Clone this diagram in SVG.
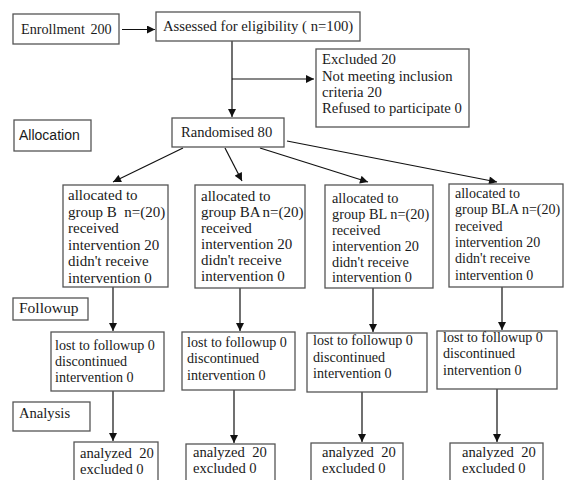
<svg xmlns="http://www.w3.org/2000/svg" width="569" height="480" viewBox="0 0 569 480">
<defs>
<marker id="ah" viewBox="0 0 10 10" refX="10" refY="5" markerWidth="9" markerHeight="8" markerUnits="userSpaceOnUse" orient="auto">
<path d="M0,0 L10,5 L0,10 z" fill="#111"/>
</marker>
<style>
.box{fill:#fff;stroke:#555;stroke-width:1.3}
.t{font-family:"Liberation Serif","Times New Roman",serif;font-size:14.7px;fill:#1a1a1a}
.g1{font-size:15px}
.g3{font-size:14.3px}
.g4{font-size:14px}
.fu{font-size:14.1px}
.an{font-size:14.6px}
.s{font-family:"Liberation Sans",Arial,sans-serif;font-size:14px;fill:#1a1a1a}
.c{fill:none;stroke:#111;stroke-width:1.2;marker-end:url(#ah)}
</style>
</defs>
<rect width="569" height="480" fill="#fff"/>

<g id="connectors">
<line class="c" x1="122" y1="29.5" x2="155" y2="29.5"/>
<line class="c" x1="232" y1="41" x2="232" y2="117"/>
<line class="c" x1="232" y1="79" x2="314" y2="79"/>
<line class="c" x1="183" y1="148" x2="113" y2="182"/>
<line class="c" x1="225" y1="148" x2="242" y2="181"/>
<line class="c" x1="260" y1="148" x2="368" y2="182"/>
<line class="c" x1="287" y1="141" x2="497" y2="182"/>
<line class="c" x1="113" y1="287" x2="113" y2="331"/>
<line class="c" x1="240" y1="288" x2="240" y2="331"/>
<line class="c" x1="373" y1="288" x2="373" y2="332"/>
<line class="c" x1="502" y1="287" x2="502" y2="330"/>
<line class="c" x1="113" y1="391" x2="113" y2="441"/>
<line class="c" x1="234" y1="390" x2="234" y2="443"/>
<line class="c" x1="362" y1="392" x2="362" y2="442"/>
<line class="c" x1="497" y1="389" x2="497" y2="442"/>
</g>

<g id="enrollment">
<rect class="box" x="13" y="14" width="106" height="30"/>
<text class="t" x="21" y="34" style="font-size:14.2px">Enrollment <tspan dx="2">200</tspan></text>
</g>
<g id="assessed">
<rect class="box" x="156" y="12" width="204" height="29"/>
<text class="t" x="163" y="31">Assessed for eligibility ( n=100)</text>
</g>
<g id="excluded">
<rect class="box" x="316" y="49" width="153" height="78"/>
<text class="t"><tspan x="322" y="64">Excluded 20</tspan><tspan x="322" y="81">Not meeting inclusion</tspan><tspan x="322" y="97">criteria 20</tspan><tspan x="322" y="113">Refused to participate 0</tspan></text>
</g>
<g id="allocation">
<rect class="box" x="14" y="120" width="77" height="31"/>
<text class="s" x="19" y="140">Allocation</text>
</g>
<g id="randomised">
<rect class="box" x="172" y="118" width="112" height="29"/>
<text class="t" x="181" y="137" style="font-size:14.6px">Randomised 80</text>
</g>

<g id="groupB">
<rect class="box" x="63" y="185" width="105" height="102"/>
<text class="t g1"><tspan x="68" y="200">allocated to</tspan><tspan x="68" y="216.5" xml:space="preserve">group B  n=(20)</tspan><tspan x="68" y="233">received</tspan><tspan x="68" y="249.5">intervention 20</tspan><tspan x="68" y="266">didn't receive</tspan><tspan x="68" y="282.5">intervention 0</tspan></text>
</g>
<g id="groupBA">
<rect class="box" x="195" y="185" width="110" height="103"/>
<text class="t g1"><tspan x="201" y="201">allocated to</tspan><tspan x="201" y="217">group BA<tspan dx="2">n=(20)</tspan></tspan><tspan x="201" y="233">received</tspan><tspan x="201" y="249">intervention 20</tspan><tspan x="201" y="265">didn't receive</tspan><tspan x="201" y="281">intervention 0</tspan></text>
</g>
<g id="groupBL">
<rect class="box" x="325" y="185" width="108" height="103"/>
<text class="t g3"><tspan x="332" y="203">allocated to</tspan><tspan x="332" y="219">group BL n=(20)</tspan><tspan x="332" y="235">received</tspan><tspan x="332" y="251">intervention 20</tspan><tspan x="332" y="267">didn't receive</tspan><tspan x="332" y="282">intervention 0</tspan></text>
</g>
<g id="groupBLA">
<rect class="box" x="449" y="184" width="114" height="103"/>
<text class="t g4"><tspan x="455" y="198">allocated to</tspan><tspan x="455" y="214">group BLA n=(20)</tspan><tspan x="455" y="231">received</tspan><tspan x="455" y="247">intervention 20</tspan><tspan x="455" y="263">didn't receive</tspan><tspan x="455" y="280">intervention 0</tspan></text>
</g>

<g id="followup">
<rect class="box" x="13" y="298" width="75" height="22"/>
<text class="t" x="19" y="313" style="font-size:15.5px">Followup</text>
</g>
<g id="fuB">
<rect class="box" x="51" y="332" width="113" height="59"/>
<text class="t fu"><tspan x="55" y="350">lost to followup 0</tspan><tspan x="55" y="366">discontinued</tspan><tspan x="55" y="382">intervention 0</tspan></text>
</g>
<g id="fuBA">
<rect class="box" x="182" y="332" width="113" height="58"/>
<text class="t fu"><tspan x="187" y="347">lost to followup 0</tspan><tspan x="187" y="363">discontinued</tspan><tspan x="187" y="380">intervention 0</tspan></text>
</g>
<g id="fuBL">
<rect class="box" x="307" y="333" width="120" height="59"/>
<text class="t fu"><tspan x="313" y="345">lost to followup 0</tspan><tspan x="313" y="362">discontinued</tspan><tspan x="313" y="378">intervention 0</tspan></text>
</g>
<g id="fuBLA">
<rect class="box" x="437" y="331" width="120" height="58"/>
<text class="t fu"><tspan x="443" y="342">lost to followup 0</tspan><tspan x="443" y="358">discontinued</tspan><tspan x="443" y="375">intervention 0</tspan></text>
</g>

<g id="analysis">
<rect class="box" x="13" y="402" width="77" height="29"/>
<text class="t an" x="19" y="418">Analysis</text>
</g>
<g id="anB">
<rect class="box" x="74" y="442" width="84" height="45"/>
<text class="t an" xml:space="preserve"><tspan x="80" y="458">analyzed  20</tspan><tspan x="80" y="474">excluded 0</tspan></text>
</g>
<g id="anBA">
<rect class="box" x="186" y="444" width="89" height="45"/>
<text class="t an" xml:space="preserve"><tspan x="193" y="457">analyzed  20</tspan><tspan x="193" y="473">excluded 0</tspan></text>
</g>
<g id="anBL">
<rect class="box" x="311" y="443" width="92" height="45"/>
<text class="t an" xml:space="preserve"><tspan x="322" y="457">analyzed  20</tspan><tspan x="322" y="473">excluded 0</tspan></text>
</g>
<g id="anBLA">
<rect class="box" x="450" y="443" width="93" height="45"/>
<text class="t an" xml:space="preserve"><tspan x="462" y="457">analyzed  20</tspan><tspan x="462" y="473">excluded 0</tspan></text>
</g>
</svg>
